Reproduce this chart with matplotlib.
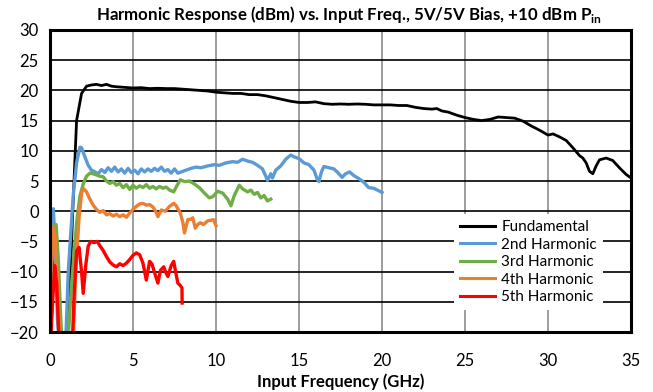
import matplotlib
matplotlib.use("Agg")
import matplotlib.pyplot as plt

plt.rcParams['font.family'] = ['Lato', 'DejaVu Sans']
plt.rcParams['mathtext.fontset'] = 'custom'
plt.rcParams['mathtext.bf'] = 'Lato:bold'
plt.rcParams['mathtext.rm'] = 'Lato'

# ---- data (GHz, dBm) ----
fund_x = [0.0, 0.15, 0.3, 0.45, 0.6, 1.05, 1.2, 1.4, 1.6, 1.9, 2.2, 2.5, 2.8, 3.1, 3.4, 3.7, 4.0, 4.5,
          5.0, 5.5, 6.0, 6.5, 7.0, 7.5, 8.0, 8.5, 9.0, 9.5, 10.0, 10.5, 11.0, 11.5, 12.0, 12.5, 13.0,
          13.5, 14.0, 14.5, 15.0, 15.5, 16.0, 16.5, 17.0, 17.5, 18.0, 18.5, 19.0, 19.5, 20.0, 20.5,
          21.0, 21.5, 22.0, 22.5, 23.0, 23.3, 23.6, 24.0, 24.5, 25.0, 25.5, 26.0, 26.5, 27.0, 27.5,
          28.0, 28.5, 29.0, 29.5, 30.0, 30.3, 30.7, 31.1, 31.5, 31.9, 32.1, 32.3, 32.5, 32.7, 32.9,
          33.1, 33.5, 33.9, 34.3, 34.7, 35.0]
fund_y = [-25, -14, -7, -15, -25, -25, -12, 2, 15, 19.5, 20.7, 20.9, 21.0, 20.8, 21.0, 20.7, 20.6, 20.5,
          20.4, 20.45, 20.3, 20.35, 20.3, 20.3, 20.2, 20.1, 20.0, 19.9, 19.7, 19.6, 19.5, 19.5, 19.3,
          19.3, 19.1, 18.8, 18.5, 18.2, 18.0, 18.0, 18.1, 17.8, 17.7, 17.75, 17.7, 17.75, 17.7, 17.6,
          17.6, 17.6, 17.5, 17.5, 17.2, 17.0, 16.9, 17.0, 16.6, 16.4, 15.9, 15.5, 15.2, 15.0, 15.2,
          15.6, 15.5, 15.4, 14.9, 14.1, 13.4, 12.6, 12.8, 12.3, 11.7, 10.5, 9.2, 8.8, 8.0, 6.6, 6.2,
          7.5, 8.5, 8.8, 8.4, 7.2, 6.1, 5.5]

h2_x = [0.0, 0.1, 0.2, 0.3, 0.45, 0.65, 0.9, 1.1, 1.4, 1.6, 1.8, 1.9, 2.1, 2.3, 2.5, 2.7, 2.9, 3.1, 3.3,
        3.5, 3.7, 3.9, 4.1, 4.3, 4.5, 4.7, 4.9, 5.1, 5.3, 5.5, 5.7, 5.9, 6.1, 6.3, 6.5, 6.7, 6.9, 7.1,
        7.3, 7.5, 7.7, 7.9, 8.2, 8.5, 8.8, 9.1, 9.5, 9.9, 10.2, 10.6, 11.0, 11.3, 11.6, 11.9, 12.2,
        12.5, 12.8, 13.0, 13.1, 13.3, 13.4, 13.6, 13.9, 14.2, 14.5, 14.7, 15.0, 15.3, 15.6, 15.9,
        16.1, 16.2, 16.35, 16.5, 16.8, 17.1, 17.3, 17.6, 17.8, 18.05, 18.3, 18.6, 18.9, 19.2, 19.5,
        19.8, 20.0]
h2_y = [-25, -10, 0.4, -5, -18, -25, -25, -10, 2.7, 8, 10.6, 10.5, 9, 7.6, 6.8, 6.5, 6.2, 6.9, 6.4,
        7.2, 6.6, 7.3, 6.5, 7.0, 6.3, 7.1, 6.4, 6.8, 6.2, 7.0, 6.5, 7.0, 6.6, 7.1, 6.7, 7.3, 6.6, 6.9,
        6.3, 7.0, 6.3, 6.5, 6.8, 7.1, 7.3, 7.2, 7.5, 7.7, 7.6, 8.0, 8.2, 8.1, 8.6, 8.3, 8.1, 7.6, 7.0,
        5.8, 5.1, 6.2, 5.5, 6.8, 7.5, 8.6, 9.3, 9.0, 8.7, 8.0, 7.7, 6.8, 5.3, 4.9, 6.5, 7.4, 7.2, 7.0,
        6.5, 5.6, 6.2, 6.5, 5.9, 5.4, 4.8, 3.9, 3.8, 3.4, 3.1]

h3_x = [0.0, 0.05, 0.2, 0.37, 0.5, 0.65, 0.8, 1.0, 1.3, 1.6, 1.8, 2.0, 2.2, 2.4, 2.6, 2.8, 3.0, 3.2,
        3.4, 3.6, 3.8, 4.0, 4.2, 4.4, 4.6, 4.8, 5.0, 5.2, 5.4, 5.6, 5.8, 6.0, 6.2, 6.4, 6.6, 6.8, 7.0,
        7.2, 7.45, 7.6, 7.85, 8.1, 8.4, 8.7, 9.0, 9.3, 9.6, 9.8, 10.1, 10.4, 10.7, 10.9, 11.1, 11.4,
        11.6, 11.9, 12.1, 12.3, 12.5, 12.7, 12.9, 13.1, 13.3]
h3_y = [-25, -2.8, -2.5, -2.2, -8, -18, -25, -25, -12, -2, 2.5, 4.5, 5.8, 6.3, 6.2, 6.0, 5.8, 5.7,
        5.0, 4.6, 4.9, 4.3, 4.6, 3.9, 4.4, 3.6, 4.3, 3.8, 4.2, 3.9, 4.4, 3.8, 4.1, 3.7, 4.1, 3.8, 4.0,
        3.5, 3.2, 4.0, 5.2, 4.9, 5.0, 4.5, 3.9, 3.0, 2.2, 2.4, 3.3, 3.0, 2.0, 0.9, 2.6, 4.3, 3.7, 3.2,
        3.5, 2.8, 3.1, 2.2, 2.6, 1.7, 2.0]

h4_x = [0.0, 0.05, 0.2, 0.3, 0.45, 0.65, 1.35, 1.55, 1.75, 1.9, 2.0, 2.2, 2.4, 2.6, 2.8, 3.0, 3.2, 3.4,
        3.6, 3.8, 4.0, 4.2, 4.4, 4.6, 4.8, 5.0, 5.2, 5.4, 5.6, 5.8, 6.0, 6.2, 6.4, 6.5, 6.7, 6.95, 7.2,
        7.45, 7.6, 7.85, 8.0, 8.1, 8.2, 8.3, 8.5, 8.6, 8.75, 8.9, 9.05, 9.25, 9.5, 9.85, 10.0]
h4_y = [-25, -10, -2.5, -4, -12, -25, -25, -10, -1, 3, 3.8, 3.2, 2.0, 1.0, 0.3, -0.2, 0.1, -0.6,
        -0.4, -0.8, -0.5, -0.9, -0.6, -1.0, -0.3, 0.3, 0.8, 1.2, 1.3, 1.0, 1.1, 0.7, -0.2, -0.9, 0.2,
        0.0, 0.8, 1.3, 0.9, -0.3, -1.8, -3.6, -2.5, -1.4, -1.3, -1.1, -2.8, -2.2, -1.9, -2.2, -1.6,
        -1.4, -2.4]

h5_x = [0.0, 0.1, 0.28, 0.4, 0.6, 1.3, 1.45, 1.6, 1.75, 1.9, 2.0, 2.15, 2.3, 2.45, 2.65, 2.85, 3.0,
        3.2, 3.4, 3.6, 3.8, 4.0, 4.2, 4.4, 4.6, 4.8, 5.0, 5.2, 5.4, 5.6, 5.8, 6.0, 6.15, 6.3, 6.5,
        6.65, 6.85, 7.0, 7.1, 7.3, 7.45, 7.6, 7.7, 7.85, 7.95, 7.96]
h5_y = [-25, -18, -9.0, -12, -25, -25, -14, -6.6, -6.0, -10, -13.6, -9, -5.8, -5.0, -5.2, -5.0, -5.7,
        -6.5, -7.5, -8.4, -8.9, -9.2, -8.7, -9.0, -8.6, -8.0, -7.3, -6.9, -7.2, -8.6, -11.4, -8.3,
        -8.8, -10.2, -11.9, -9.8, -9.2, -10.3, -10.8, -9.0, -8.3, -10.5, -11.9, -12.3, -12.7, -15.2]

labels = ["Fundamental", "2nd Harmonic", "3rd Harmonic", "4th Harmonic", "5th Harmonic"]
colors = ["#000000", "#5B9BD5", "#70AD47", "#ED7D31", "#FF0000"]
x_ticks = [0, 5, 10, 15, 20, 25, 30, 35]
y_ticks = [-20, -15, -10, -5, 0, 5, 10, 15, 20, 25, 30]

fig = plt.figure(figsize=(6.53, 3.92), dpi=100)
ax = fig.add_axes([0.0766, 0.153, 0.8897, 0.7705])

series = [(fund_x, fund_y), (h2_x, h2_y), (h3_x, h3_y), (h4_x, h4_y), (h5_x, h5_y)]
widths = [2.0, 2.4, 2.4, 2.4, 2.4]
for (xs, ys), lab, c, w in zip(series, labels, colors, widths):
    ax.plot(xs, ys, color=c, lw=w, label=lab, solid_joinstyle='round', zorder=3)

ax.set_xlim(0, 35)
ax.set_ylim(-20, 30)
ax.set_xticks(x_ticks)
ax.set_yticks(y_ticks)
ax.tick_params(axis='y', length=0, labelsize=12, pad=8)
ax.tick_params(axis='x', length=0, labelsize=12, pad=15)
ax.xaxis.grid(True, color='#8C8C8C', lw=1.2)
ax.yaxis.grid(True, color='#000000', lw=1.2)
ax.set_axisbelow(True)
for s in ax.spines.values():
    s.set_linewidth(2.2)
    s.set_color('black')
    s.set_zorder(4)

ax.set_xlabel("Input Frequency (GHz)", fontsize=12, fontweight='bold', labelpad=3)
fig.text(0.5 + 0.034, 0.963, r"Harmonic Response (dBm) vs. Input Freq., 5V/5V Bias, +10 dBm P$_{\mathbf{in}}$",
         ha='center', va='center', fontsize=12.2, fontweight='bold')

leg = ax.legend(loc='lower right', bbox_to_anchor=(0.952, 0.073), borderaxespad=0,
                frameon=True, fancybox=False, fontsize=11, handlelength=2.3,
                handletextpad=0.4, labelspacing=0.22, borderpad=0.4)
leg.get_frame().set_edgecolor('none')
leg.get_frame().set_facecolor('white')
leg.get_frame().set_alpha(1)
for l in leg.get_lines():
    l.set_linewidth(2.2)

fig.savefig("out.png", dpi=100)
